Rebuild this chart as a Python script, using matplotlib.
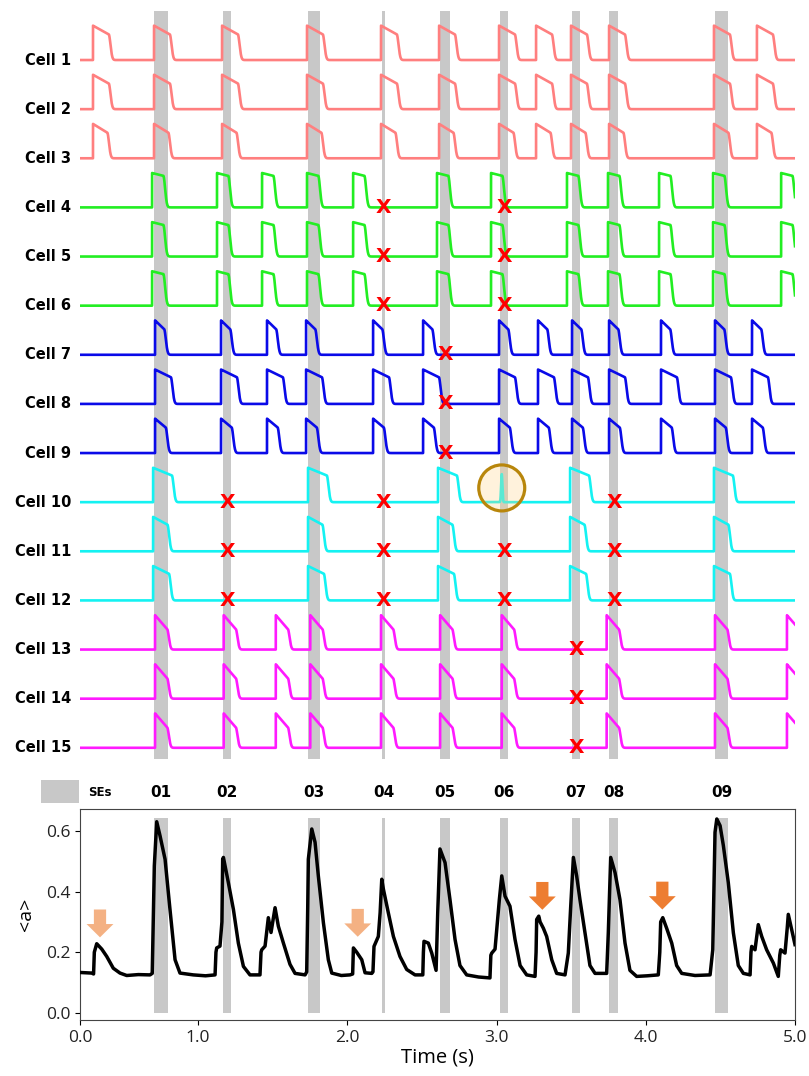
import numpy as np
import matplotlib
matplotlib.use("Agg")
import matplotlib.pyplot as plt
import matplotlib.transforms as mtransforms
from matplotlib.patches import Ellipse, Rectangle, FancyArrow

# ------------------------------------------------------------------ data
cell_labels = [f"Cell {i}" for i in range(1, 16)]
group_colors = ["#ff7f7f", "#22ee22", "#0a0ae8", "#14f2f2", "#ff1aff"]

# pulse onsets (s) for each group of three cells
red_onsets = [0.296, 0.705, 1.161, 1.730, 2.226, 2.615, 3.017, 3.265, 3.499, 3.754, 4.457, 4.745]
green_onsets = [0.692, 1.127, 1.429, 1.730, 2.039, 2.601, 2.963, 3.472, 3.747, 4.089, 4.451, 4.907]
blue_onsets = [0.712, 1.154, 1.462, 1.724, 2.173, 2.508, 3.017, 3.278, 3.506, 3.754, 4.102, 4.464, 4.712]
cyan_onsets = [0.699, 1.737, 2.608, 3.493, 4.457]
magenta_onsets = [0.712, 1.172, 1.521, 1.752, 2.226, 2.622, 3.035, 3.738, 4.464, 4.946]
cell10_spike = 3.035

# plateau duration (s) and relative plateau decline per cell
cell_plateau = [0.105, 0.105, 0.095, 0.075, 0.075, 0.075, 0.060, 0.105, 0.070,
                0.125, 0.095, 0.105, 0.080, 0.080, 0.080]
cell_drop = [0.25, 0.25, 0.25, 0.08, 0.08, 0.08, 0.25, 0.22, 0.25,
             0.22, 0.22, 0.22, 0.40, 0.40, 0.40]

# synchronous events (SEs)
se_labels = ["01", "02", "03", "04", "05", "06", "07", "08", "09"]
se_start = [0.706, 1.165, 1.737, 2.230, 2.620, 3.025, 3.504, 3.756, 4.464]
se_end = [0.796, 1.223, 1.819, 2.255, 2.691, 3.074, 3.561, 3.817, 4.553]

# SEs missed by each cell (red crosses)
missed_cells = [4, 4, 5, 5, 6, 6, 7, 8, 9, 10, 10, 10, 11, 11, 11, 11, 12, 12, 12, 12, 13, 14, 15]
missed_se = ["04", "06", "04", "06", "04", "06", "05", "05", "05", "02", "04", "08",
             "02", "04", "06", "08", "02", "04", "06", "08", "07", "07", "07"]

# mean activity <a>
mean_t = [0.209, 0.288, 0.300, 0.305, 0.321, 0.355, 0.388, 0.432, 0.477, 0.522, 0.600, 0.678,
          0.693, 0.700, 0.707, 0.723, 0.745, 0.779, 0.812, 0.846, 0.879, 0.968, 1.050, 1.114,
          1.120, 1.125, 1.147, 1.160, 1.165, 1.170, 1.203, 1.237, 1.270, 1.304, 1.348, 1.415,
          1.422, 1.427, 1.449, 1.471, 1.489, 1.516, 1.538, 1.572, 1.616, 1.650, 1.717, 1.728,
          1.735, 1.739, 1.762, 1.784, 1.806, 1.840, 1.873, 1.896, 1.960, 2.018, 2.036, 2.041,
          2.063, 2.097, 2.119, 2.164, 2.172, 2.179, 2.208, 2.220, 2.231, 2.242, 2.275, 2.309,
          2.353, 2.398, 2.454, 2.506, 2.510, 2.514, 2.543, 2.566, 2.595, 2.606, 2.621, 2.655,
          2.688, 2.722, 2.755, 2.800, 2.880, 2.956, 2.962, 2.968, 2.990, 3.019, 3.035, 3.057,
          3.090, 3.124, 3.158, 3.202, 3.258, 3.265, 3.269, 3.283, 3.292, 3.314, 3.336, 3.370,
          3.403, 3.459, 3.481, 3.497, 3.515, 3.537, 3.559, 3.593, 3.626, 3.660, 3.738, 3.749,
          3.765, 3.794, 3.827, 3.861, 3.894, 3.939, 4.010, 4.084, 4.094, 4.100, 4.114, 4.140,
          4.174, 4.207, 4.241, 4.330, 4.431, 4.449, 4.464, 4.476, 4.498, 4.520, 4.553, 4.587,
          4.620, 4.654, 4.699, 4.705, 4.710, 4.732, 4.754, 4.777, 4.810, 4.855, 4.888, 4.898,
          4.904, 4.933, 4.948, 4.955, 4.978, 5.000]
mean_a = [0.133, 0.131, 0.128, 0.200, 0.228, 0.210, 0.186, 0.147, 0.131, 0.123, 0.126, 0.125,
          0.130, 0.300, 0.485, 0.631, 0.585, 0.507, 0.341, 0.175, 0.131, 0.125, 0.122, 0.125,
          0.200, 0.214, 0.220, 0.300, 0.507, 0.513, 0.430, 0.341, 0.230, 0.153, 0.125, 0.125,
          0.200, 0.208, 0.220, 0.314, 0.265, 0.347, 0.286, 0.230, 0.160, 0.130, 0.125, 0.135,
          0.350, 0.507, 0.607, 0.563, 0.452, 0.297, 0.175, 0.131, 0.123, 0.125, 0.128, 0.214,
          0.200, 0.175, 0.132, 0.130, 0.135, 0.219, 0.252, 0.330, 0.441, 0.408, 0.330, 0.252,
          0.186, 0.143, 0.125, 0.125, 0.200, 0.236, 0.230, 0.197, 0.140, 0.330, 0.541, 0.496,
          0.374, 0.242, 0.156, 0.125, 0.118, 0.115, 0.190, 0.197, 0.210, 0.374, 0.452, 0.385,
          0.352, 0.242, 0.156, 0.125, 0.120, 0.200, 0.308, 0.319, 0.300, 0.279, 0.252, 0.175,
          0.130, 0.125, 0.197, 0.350, 0.513, 0.452, 0.374, 0.264, 0.156, 0.130, 0.130, 0.264,
          0.513, 0.463, 0.374, 0.230, 0.140, 0.120, 0.122, 0.125, 0.200, 0.300, 0.314, 0.279,
          0.230, 0.156, 0.130, 0.123, 0.125, 0.208, 0.596, 0.640, 0.618, 0.552, 0.430, 0.264,
          0.156, 0.130, 0.125, 0.200, 0.219, 0.208, 0.291, 0.252, 0.208, 0.164, 0.120, 0.190,
          0.208, 0.197, 0.280, 0.325, 0.274, 0.225]

# arrows marking non-synchronous events
arrow_t = [0.343, 2.070, 3.307, 4.111]
arrow_top = [0.341, 0.343, 0.432, 0.433]
arrow_colors = ["#f4b183", "#f4b183", "#ed7d31", "#ed7d31"]

x_ticks = [0.209, 1.0, 2.0, 3.0, 4.0, 5.0]
x_ticklabels = ["0.0", "1.0", "2.0", "3.0", "4.0", "5.0"]
y_ticks = [0.0, 0.2, 0.4, 0.6]

# ------------------------------------------------------------------ figure
XMIN, XMAX = 0.209, 5.0
fig = plt.figure(figsize=(8.09, 10.76), dpi=100)

ax_top = fig.add_axes([80 / 809, 1 - 765 / 1076, 715 / 809, 760 / 1076])
ax_bot = fig.add_axes([80 / 809, 1 - 1020 / 1076, 715 / 809, 210.7 / 1076])

# ---- top panel: single-cell traces
t = np.linspace(XMIN, XMAX, 14000)


def cell_trace(onsets, D, drop, amp=0.70, sig=0.017):
    y = np.zeros_like(t)
    for t0 in onsets:
        on = (t >= t0) & (t < t0 + D)
        y[on] = 1.0 - drop * (t[on] - t0) / D
        after = (t >= t0 + D) & (t < t0 + D + 0.2)
        y[after] += (1.0 - drop) * np.exp(-((t[after] - t0 - D) / sig) ** 2)
    return amp * y


group_onsets = [red_onsets, green_onsets, blue_onsets, cyan_onsets, magenta_onsets]
ax_top.set_xlim(XMIN, XMAX)
ax_top.set_ylim(-14.35, 1.12)
ax_top.axis("off")

se_centers = [(a + b) / 2 for a, b in zip(se_start, se_end)]
se_widths = [b - a for a, b in zip(se_start, se_end)]
ax_top.bar(se_start, 15.217, width=se_widths, bottom=-14.22, align="edge",
           color="#c8c8c8", zorder=1, linewidth=0)

lbl_tr = mtransforms.blended_transform_factory(ax_top.transAxes, ax_top.transData)
for i in range(15):
    g = i // 3
    y = cell_trace(group_onsets[g], cell_plateau[i], cell_drop[i])
    if i == 9:
        y = y + 0.57 * np.exp(-((t - cell10_spike) / 0.006) ** 2)
    base = -i
    ax_top.plot(t, y + base, color=group_colors[g], lw=1.9, zorder=3)
    ax_top.text(-0.0125, base, cell_labels[i], transform=lbl_tr, ha="right",
                va="center", fontsize=10.5, fontweight="bold")

for c, s in zip(missed_cells, missed_se):
    k = se_labels.index(s)
    ax_top.text(se_centers[k], -(c - 1), "X", color="#ff0000", fontsize=14.5,
                fontweight="bold", ha="center", va="center", zorder=6)

ax_top.add_patch(Ellipse((cell10_spike, -8.71), 0.308, 0.936,
                         facecolor=(1.0, 0.84, 0.55, 0.30), edgecolor="#b8860b",
                         lw=2.3, zorder=5))

# ---- bottom panel: mean activity
ax_bot.bar(se_start, 0.643, width=se_widths, bottom=0, align="edge",
           color="#c8c8c8", zorder=1, linewidth=0)
ax_bot.plot(mean_t, mean_a, color="black", lw=2.5, zorder=3)
ax_bot.set_xlim(XMIN, XMAX)
ax_bot.set_ylim(-0.024, 0.672)
ax_bot.set_xticks(x_ticks)
ax_bot.set_xticklabels(x_ticklabels)
ax_bot.set_yticks(y_ticks)
ax_bot.set_yticklabels([f"{v:.1f}" for v in y_ticks])
for lab in ax_bot.get_xticklabels() + ax_bot.get_yticklabels():
    lab.set_fontfamily("Open Sans")
    lab.set_fontsize(12.5)
    lab.set_color("#222222")
ax_bot.set_xlabel("Time (s)", fontfamily="Open Sans", fontsize=14.5, labelpad=1)
ax_bot.set_ylabel("<a>", fontfamily="Open Sans", fontsize=14, labelpad=8)
for sp in ax_bot.spines.values():
    sp.set_color("#444444")

for x0, ytop, col in zip(arrow_t, arrow_top, arrow_colors):
    ax_bot.add_patch(FancyArrow(x0, ytop, 0, -0.092, width=0.082, head_width=0.180,
                                head_length=0.044, length_includes_head=True,
                                color=col, lw=0, zorder=4))

# SE labels above the axes
se_tr = mtransforms.blended_transform_factory(ax_bot.transData, ax_bot.transAxes)
for c, s in zip(se_centers, se_labels):
    ax_bot.text(c, 1.08, s, transform=se_tr, ha="center", va="center",
                fontsize=11, fontweight="bold")
ax_bot.add_patch(Rectangle((-0.0545, 1.030), 0.0531, 0.109, transform=ax_bot.transAxes,
                           facecolor="#c8c8c8", edgecolor="none", clip_on=False))
ax_bot.text(0.011, 1.082, "SEs", transform=ax_bot.transAxes, ha="left", va="center",
            fontsize=8.5, fontweight="bold")

fig.savefig("out.png", dpi=100)
